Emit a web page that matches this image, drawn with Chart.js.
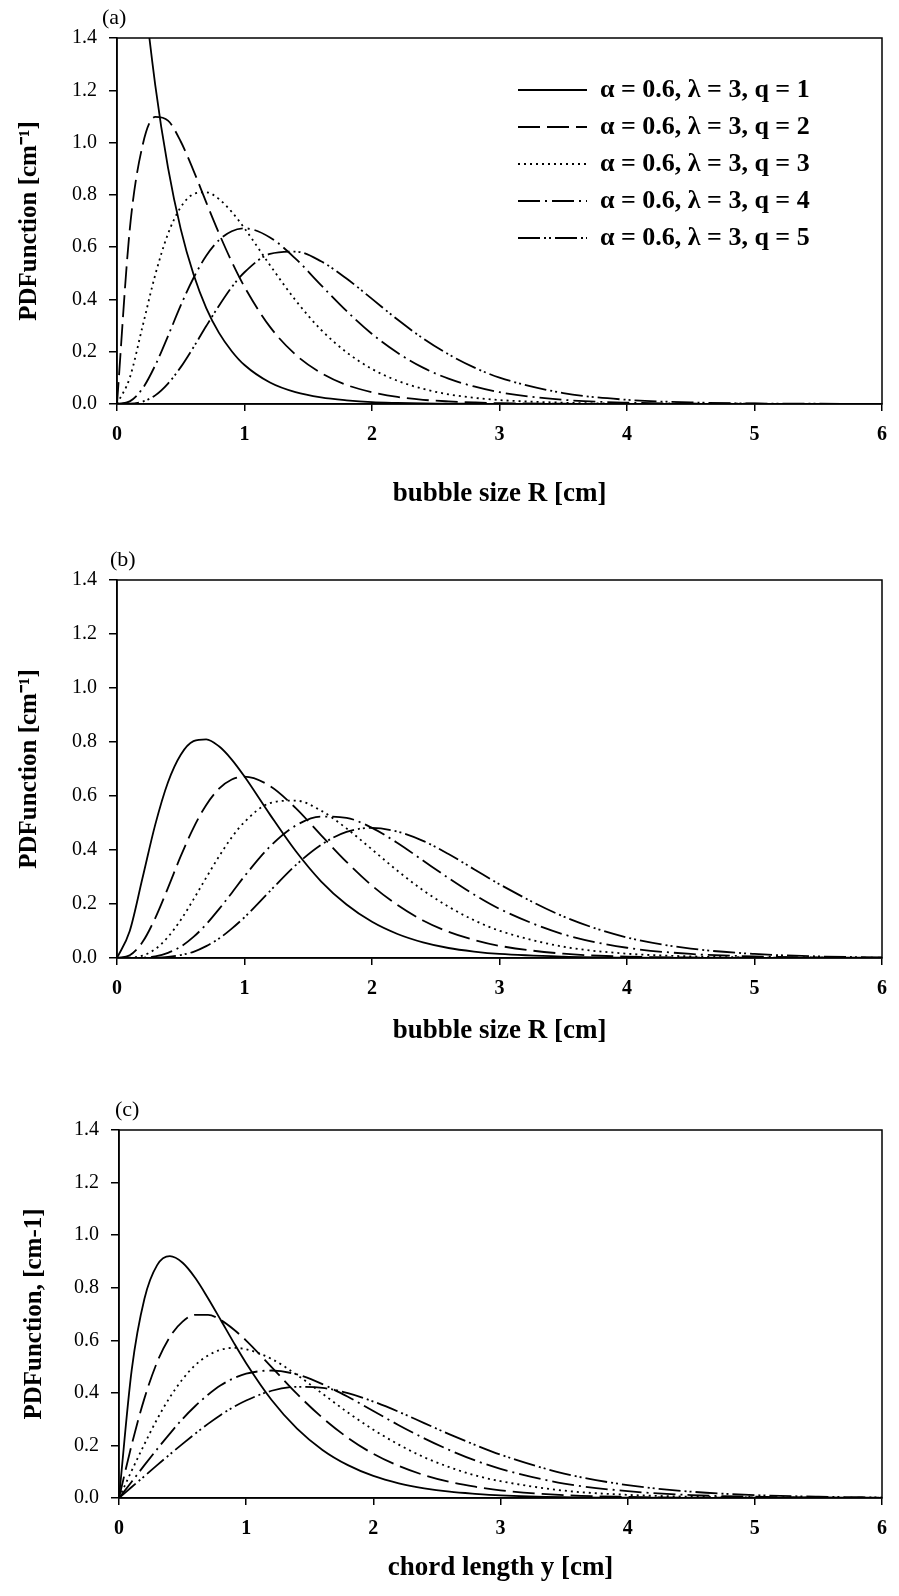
<!DOCTYPE html>
<html>
<head>
<meta charset="utf-8">
<title>PDFunction of bubble size and chord length</title>
<script src="https://cdn.jsdelivr.net/npm/chart.js@4.4.1/dist/chart.umd.min.js"></script>
<style>
  html, body { margin: 0; padding: 0; background: #fff; }
  canvas { display: block; }
</style>
</head>
<body>
<canvas id="chartA" width="899" height="530"></canvas>
<canvas id="chartB" width="899" height="530"></canvas>
<canvas id="chartC" width="899" height="536"></canvas>
<script>
// x positions shared by every curve (cm)
const xValues = [0, 0.1, 0.2, 0.3, 0.4, 0.5, 0.6, 0.7, 0.8, 0.9, 1.0, 1.2, 1.4, 1.6, 1.8, 2.0, 2.2, 2.4, 2.6, 2.8, 3.0, 3.5, 4.0, 4.5, 5.0, 5.5, 6.0];
const xTickValues = [0, 1, 2, 3, 4, 5, 6];
const yTickValues = [0, 0.2, 0.4, 0.6, 0.8, 1.0, 1.2, 1.4];
const seriesLabels = [
  'α = 0.6, λ = 3, q = 1',
  'α = 0.6, λ = 3, q = 2',
  'α = 0.6, λ = 3, q = 3',
  'α = 0.6, λ = 3, q = 4',
  'α = 0.6, λ = 3, q = 5'
];

// (a) bubble size
const aQ1 = [3.0, 2.222, 1.646, 1.220, 0.904, 0.669, 0.496, 0.367, 0.272, 0.202, 0.149, 0.082, 0.045, 0.025, 0.014, 0.007, 0.004, 0.002, 0.001, 0.001, 0.000, 0, 0, 0, 0, 0, 0];
const aQ2 = [0, 0.667, 0.988, 1.098, 1.084, 1.004, 0.893, 0.771, 0.653, 0.544, 0.448, 0.295, 0.189, 0.119, 0.073, 0.045, 0.027, 0.016, 0.010, 0.006, 0.003, 0.001, 0.000, 0, 0, 0, 0];
const aQ3 = [0, 0.100, 0.296, 0.494, 0.651, 0.753, 0.803, 0.810, 0.784, 0.735, 0.672, 0.531, 0.397, 0.284, 0.198, 0.134, 0.089, 0.058, 0.037, 0.024, 0.015, 0.005, 0.001, 0.000, 0, 0, 0];
const aQ4 = [0, 0.010, 0.059, 0.148, 0.260, 0.377, 0.482, 0.567, 0.627, 0.661, 0.672, 0.637, 0.556, 0.455, 0.356, 0.268, 0.196, 0.139, 0.097, 0.067, 0.045, 0.016, 0.005, 0.002, 0.001, 0.000, 0];
const aQ5 = [0, 0.001, 0.009, 0.033, 0.078, 0.141, 0.217, 0.298, 0.376, 0.447, 0.504, 0.574, 0.583, 0.546, 0.480, 0.402, 0.323, 0.251, 0.190, 0.140, 0.101, 0.042, 0.016, 0.006, 0.002, 0.001, 0.000];

// (b) bubble size
const bQ1 = [0, 0.100, 0.296, 0.494, 0.651, 0.753, 0.803, 0.810, 0.784, 0.735, 0.672, 0.531, 0.397, 0.284, 0.198, 0.134, 0.089, 0.058, 0.037, 0.024, 0.015, 0.005, 0.001, 0.000, 0, 0, 0];
const bQ2 = [0, 0.010, 0.059, 0.148, 0.260, 0.377, 0.482, 0.567, 0.627, 0.661, 0.672, 0.637, 0.556, 0.455, 0.356, 0.268, 0.196, 0.139, 0.097, 0.067, 0.045, 0.016, 0.005, 0.002, 0.001, 0.000, 0];
const bQ3 = [0, 0.001, 0.009, 0.033, 0.078, 0.141, 0.217, 0.298, 0.376, 0.447, 0.504, 0.574, 0.583, 0.546, 0.480, 0.402, 0.323, 0.251, 0.190, 0.140, 0.101, 0.042, 0.016, 0.006, 0.002, 0.001, 0.000];
const bQ4 = [0, 0.000, 0.001, 0.006, 0.019, 0.042, 0.078, 0.125, 0.181, 0.241, 0.303, 0.413, 0.490, 0.524, 0.519, 0.482, 0.426, 0.361, 0.296, 0.235, 0.182, 0.088, 0.038, 0.015, 0.006, 0.002, 0.001];
const bQ5 = [0, 0, 0.000, 0.001, 0.004, 0.011, 0.023, 0.044, 0.072, 0.109, 0.151, 0.248, 0.343, 0.419, 0.467, 0.482, 0.468, 0.434, 0.385, 0.329, 0.273, 0.154, 0.076, 0.035, 0.015, 0.006, 0.002];

// (c) chord length
const cQ1 = [0, 0.487, 0.758, 0.886, 0.920, 0.895, 0.837, 0.760, 0.677, 0.593, 0.513, 0.373, 0.264, 0.183, 0.125, 0.084, 0.056, 0.037, 0.024, 0.016, 0.010, 0.003, 0.001, 0.000, 0, 0, 0];
const cQ2 = [0, 0.203, 0.379, 0.517, 0.613, 0.671, 0.697, 0.697, 0.677, 0.642, 0.599, 0.498, 0.396, 0.305, 0.229, 0.168, 0.122, 0.087, 0.061, 0.043, 0.029, 0.011, 0.004, 0.001, 0.001, 0.000, 0];
const cQ3 = [0, 0.104, 0.205, 0.300, 0.383, 0.452, 0.506, 0.542, 0.564, 0.571, 0.566, 0.529, 0.468, 0.397, 0.325, 0.260, 0.203, 0.155, 0.117, 0.086, 0.064, 0.028, 0.012, 0.005, 0.002, 0.001, 0.000];
const cQ4 = [0, 0.062, 0.125, 0.186, 0.245, 0.301, 0.350, 0.393, 0.429, 0.455, 0.473, 0.485, 0.470, 0.433, 0.385, 0.331, 0.277, 0.227, 0.182, 0.143, 0.111, 0.055, 0.026, 0.011, 0.005, 0.002, 0.001];
const cQ5 = [0, 0.042, 0.083, 0.125, 0.166, 0.206, 0.245, 0.282, 0.316, 0.346, 0.371, 0.408, 0.423, 0.419, 0.399, 0.367, 0.328, 0.285, 0.242, 0.202, 0.165, 0.093, 0.049, 0.024, 0.011, 0.005, 0.002];

const SERIF = '"Liberation Serif", "Times New Roman", serif';
Chart.defaults.font.family = SERIF;
Chart.defaults.color = '#000';

// solid, long dash, dotted, dash-dot, dash-dot-dot
const dashes = [[], [22, 7], [2, 4], [22, 5, 2, 5], [22, 4, 2, 3, 2, 4]];
const LINE_W = 1.8;

function makeDatasets(seriesList) {
  return seriesList.map((vals, i) => ({
    label: seriesLabels[i],
    data: xValues.map((x, j) => ({ x: x, y: vals[j] })),
    borderColor: '#000',
    backgroundColor: '#000',
    borderWidth: LINE_W,
    borderDash: dashes[i],
    pointRadius: 0,
    cubicInterpolationMode: 'monotone',
    fill: false,
    clip: 0
  }));
}

function makeScales(p) {
  return {
    x: {
      type: 'linear',
      min: 0,
      max: 6,
      afterBuildTicks: s => { s.ticks = xTickValues.map(v => ({ value: v })); },
      afterFit: s => { s.height = p.xHeight; },
      ticks: { color: '#000', padding: 12, font: { size: 20, weight: 'bold' } },
      grid: { display: true, drawOnChartArea: false, drawTicks: true, tickLength: 7, color: '#000', lineWidth: 1.5 },
      border: { display: true, color: '#000', width: 1.5 },
      title: {
        display: true,
        text: p.xTitle,
        color: '#000',
        font: { size: 27, weight: 'bold' },
        padding: { top: 0, bottom: p.xPad }
      }
    },
    y: {
      type: 'linear',
      min: 0,
      max: 1.4,
      afterBuildTicks: s => { s.ticks = yTickValues.map(v => ({ value: v })); },
      afterFit: s => { s.width = p.yWidth; },
      ticks: { color: '#000', padding: 12, font: { size: 20 }, callback: v => v.toFixed(1) },
      grid: { display: true, drawOnChartArea: false, drawTicks: true, tickLength: 8, color: '#000', lineWidth: 1.5 },
      border: { display: true, color: '#000', width: 1.5 },
      title: {
        display: true,
        text: p.yTitle,
        color: '#000',
        font: { size: 25, weight: 'bold' },
        padding: { top: p.yPad, bottom: 0 }
      }
    }
  };
}

// box round the plot area
const frameBox = {
  id: 'frameBox',
  afterDatasetsDraw(chart) {
    const { ctx, chartArea: a } = chart;
    ctx.save();
    ctx.strokeStyle = '#000';
    ctx.lineWidth = 1.5;
    ctx.strokeRect(a.left, a.top, a.right - a.left, a.bottom - a.top);
    ctx.restore();
  }
};

// "(a)", "(b)", "(c)"
const panelLabel = {
  id: 'panelLabel',
  afterDraw(chart, args, opts) {
    if (!opts || !opts.text) return;
    const { ctx, chartArea } = chart;
    ctx.save();
    ctx.font = '22px ' + SERIF;
    ctx.fillStyle = '#000';
    ctx.textBaseline = 'middle';
    ctx.fillText(opts.text, chartArea.left + opts.dx, chartArea.top - 20);
    ctx.restore();
  }
};

// move the in-area legend to the upper right
const legendPlacer = {
  id: 'legendPlacer',
  afterLayout(chart) {
    const o = chart.options.plugins.legendPlacer;
    const lg = chart.legend;
    if (!o || !o.on || !lg) return;
    lg.left = chart.chartArea.left + o.dx;
    lg.top = chart.chartArea.top + o.dy;
    lg.right = lg.left + lg.width;
    lg.bottom = lg.top + lg.height;
  }
};

// legend samples keep the dash pattern of their curve
function dashedLabels(chart) {
  const items = Chart.defaults.plugins.legend.labels.generateLabels(chart);
  return items.map(item => {
    const ds = chart.data.datasets[item.datasetIndex];
    item.lineDash = ds.borderDash;
    item.lineWidth = LINE_W;
    item.strokeStyle = '#000';
    item.fillStyle = '#000';
    item.pointStyle = 'line';
    return item;
  });
}

function makeChart(id, series, p) {
  return new Chart(document.getElementById(id), {
    type: 'line',
    data: { datasets: makeDatasets(series) },
    options: {
      responsive: false,
      animation: false,
      devicePixelRatio: 1,
      layout: { padding: { top: p.padTop, right: p.padRight, bottom: 0, left: 0 } },
      scales: makeScales(p),
      plugins: {
        tooltip: { enabled: false },
        legend: {
          display: !!p.legend,
          position: 'chartArea',
          align: 'start',
          labels: {
            usePointStyle: true,
            pointStyle: 'line',
            pointStyleWidth: 69,
            boxHeight: 26,
            padding: 11,
            color: '#000',
            font: { size: 26, weight: 'bold' },
            generateLabels: dashedLabels
          }
        },
        legendPlacer: { on: !!p.legend, dx: 390, dy: 28 },
        panelLabel: { text: p.label, dx: p.labelDx }
      }
    },
    plugins: [frameBox, panelLabel, legendPlacer]
  });
}

makeChart('chartA', [aQ1, aQ2, aQ3, aQ4, aQ5], {
  label: '(a)', labelDx: -15, legend: true,
  padTop: 38, padRight: 11, xHeight: 126, xPad: 20, yWidth: 117, yPad: 15,
  xTitle: 'bubble size R [cm]', yTitle: 'PDFunction [cm\u207B\u00B9]'
});

makeChart('chartB', [bQ1, bQ2, bQ3, bQ4, bQ5], {
  label: '(b)', labelDx: -7, legend: false,
  padTop: 50, padRight: 11, xHeight: 102, xPad: 13, yWidth: 117, yPad: 15,
  xTitle: 'bubble size R [cm]', yTitle: 'PDFunction [cm\u207B\u00B9]'
});

makeChart('chartC', [cQ1, cQ2, cQ3, cQ4, cQ5], {
  label: '(c)', labelDx: -4, legend: false,
  padTop: 70, padRight: 8, xHeight: 98, xPad: 12, yWidth: 119, yPad: 20,
  xTitle: 'chord length y [cm]', yTitle: 'PDFunction, [cm-1]'
});
</script>
</body>
</html>
